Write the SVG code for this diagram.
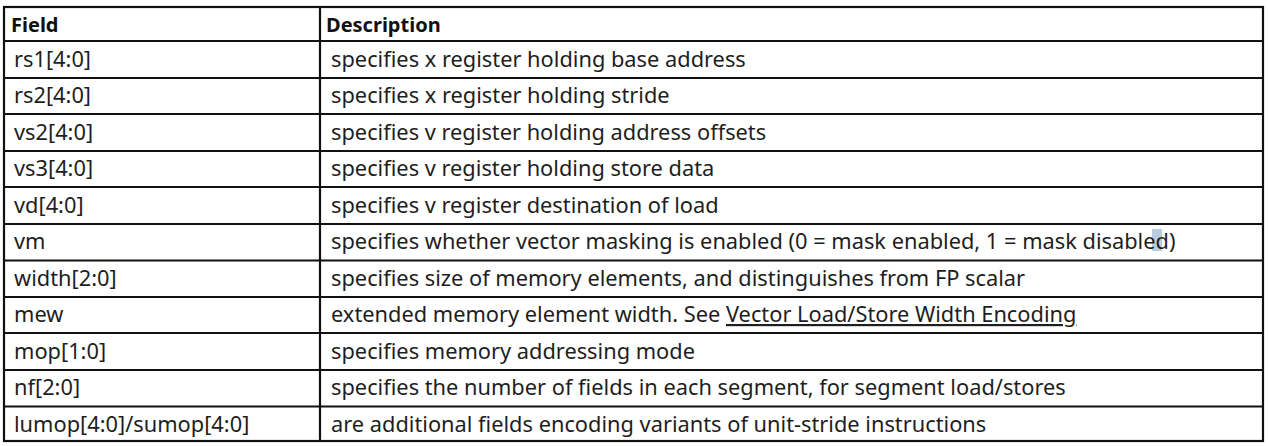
<svg xmlns="http://www.w3.org/2000/svg" width="1268" height="446" viewBox="0 0 1268 446">
<style>
.t{font-family:"Noto Sans","Open Sans",sans-serif;font-size:21.8px;fill:#1e1e1e}
.h{font-weight:bold;fill:#111;font-size:20px}
.ln{stroke:#111;stroke-width:2.2;fill:none}
</style>
<rect width="1268" height="446" fill="#ffffff"/>
<rect x="1152" y="229" width="10" height="22" fill="#b9cde0"/>
<g id="grid">
<rect class="ln" x="4" y="7" width="1259" height="434"/>
<line class="ln" x1="320" y1="7" x2="320" y2="441"/>
<line class="ln" x1="4" y1="41" x2="1263" y2="41"/>
<line class="ln" x1="4" y1="78" x2="1263" y2="78"/>
<line class="ln" x1="4" y1="114" x2="1263" y2="114"/>
<line class="ln" x1="4" y1="151" x2="1263" y2="151"/>
<line class="ln" x1="4" y1="187" x2="1263" y2="187"/>
<line class="ln" x1="4" y1="224" x2="1263" y2="224"/>
<line class="ln" x1="4" y1="260.5" x2="1263" y2="260.5"/>
<line class="ln" x1="4" y1="297" x2="1263" y2="297"/>
<line class="ln" x1="4" y1="333" x2="1263" y2="333"/>
<line class="ln" x1="4" y1="370" x2="1263" y2="370"/>
<line class="ln" x1="4" y1="406.5" x2="1263" y2="406.5"/>
</g>
<g id="header">
<text class="t h" x="11" y="32">Field</text>
<text class="t h" x="326" y="32">Description</text>
</g>
<g id="row-rs1"><text class="t" x="14" y="67">rs1[4:0]</text><text class="t" x="331" y="67">specifies x register holding base address</text></g>
<g id="row-rs2"><text class="t" x="14" y="103">rs2[4:0]</text><text class="t" x="331" y="103">specifies x register holding stride</text></g>
<g id="row-vs2"><text class="t" x="14" y="140">vs2[4:0]</text><text class="t" x="331" y="140">specifies v register holding address offsets</text></g>
<g id="row-vs3"><text class="t" x="14" y="176">vs3[4:0]</text><text class="t" x="331" y="176">specifies v register holding store data</text></g>
<g id="row-vd"><text class="t" x="14" y="213">vd[4:0]</text><text class="t" x="331" y="213">specifies v register destination of load</text></g>
<g id="row-vm"><text class="t" x="14" y="249">vm</text><text class="t" x="331" y="249">specifies whether vector masking is enabled (0 = mask enabled, 1 = mask disabled)</text></g>
<g id="row-width"><text class="t" x="14" y="286">width[2:0]</text><text class="t" x="331" y="286">specifies size of memory elements, and distinguishes from FP scalar</text></g>
<g id="row-mew"><text class="t" x="14" y="322">mew</text><text class="t" x="331" y="322">extended memory element width. See <tspan text-decoration="underline">Vector Load/Store Width Encoding</tspan></text></g>
<g id="row-mop"><text class="t" x="14" y="359">mop[1:0]</text><text class="t" x="331" y="359">specifies memory addressing mode</text></g>
<g id="row-nf"><text class="t" x="14" y="395">nf[2:0]</text><text class="t" x="331" y="395">specifies the number of fields in each segment, for segment load/stores</text></g>
<g id="row-lumop"><text class="t" x="14" y="432">lumop[4:0]/sumop[4:0]</text><text class="t" x="331" y="432">are additional fields encoding variants of unit-stride instructions</text></g>
</svg>
